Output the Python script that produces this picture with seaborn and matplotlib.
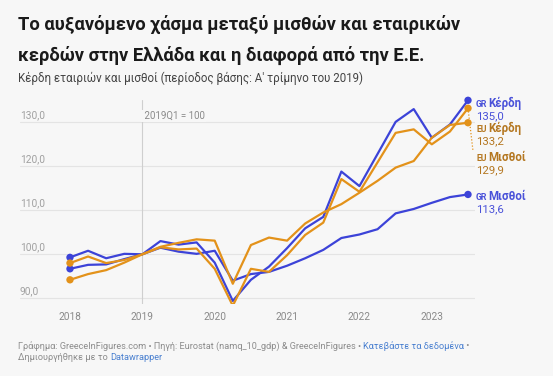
import matplotlib
matplotlib.use("Agg")
import matplotlib.pyplot as plt
import seaborn as sns
import pandas as pd

# Data (index 2019Q1 = 100)
quarters = ["2018Q1", "2018Q2", "2018Q3", "2018Q4",
            "2019Q1", "2019Q2", "2019Q3", "2019Q4",
            "2020Q1", "2020Q2", "2020Q3", "2020Q4",
            "2021Q1", "2021Q2", "2021Q3", "2021Q4",
            "2022Q1", "2022Q2", "2022Q3", "2022Q4",
            "2023Q1", "2023Q2", "2023Q3"]
gr_profits = [99.3, 100.8, 99.1, 100.1, 100.0, 103.0, 102.2, 102.7, 98.1, 89.4, 94.2, 97.2,
              101.4, 105.9, 108.5, 118.8, 115.5, 122.8, 130.1, 133.0, 126.5, 129.5, 135.0]
gr_wages = [96.7, 97.6, 97.7, 98.9, 100.0, 101.5, 100.6, 100.1, 100.8, 94.0, 95.5, 96.0,
            97.4, 99.1, 101.0, 103.7, 104.5, 105.7, 109.3, 110.3, 111.7, 113.0, 113.6]
eu_profits = [98.0, 99.5, 98.0, 98.7, 100.0, 101.6, 101.1, 101.3, 96.7, 88.3, 96.7, 96.0,
              99.8, 104.4, 107.2, 117.1, 114.2, 120.9, 127.6, 128.4, 125.0, 127.9, 133.2]
eu_wages = [94.2, 95.5, 96.4, 98.1, 100.0, 101.7, 102.6, 103.4, 103.1, 93.3, 102.1, 103.8,
            103.1, 107.0, 109.5, 111.4, 114.0, 116.7, 119.7, 121.2, 126.5, 129.4, 129.9]
year_labels = ["2018", "2019", "2020", "2021", "2022", "2023"]
y_ticks = [90, 100, 110, 120, 130]

BLUE = "#3c43d8"
ORANGE = "#e3921a"
BLUE_TXT = "#4a52d9"
ORANGE_TXT = "#b47720"
BG = "#f7f7f7"

series = {
    "GR Κέρδη": gr_profits,
    "GR Μισθοί": gr_wages,
    "EU Κέρδη": eu_profits,
    "EU Μισθοί": eu_wages,
}
palette = {"GR Κέρδη": BLUE, "GR Μισθοί": BLUE, "EU Κέρδη": ORANGE, "EU Μισθοί": ORANGE}

rows = []
for name, vals in series.items():
    for i, (q, v) in enumerate(zip(quarters, vals)):
        rows.append({"idx": i, "quarter": q, "series": name, "value": v})
df = pd.DataFrame(rows)

sns.set_theme(style="white")
plt.rcParams["font.family"] = ["Roboto", "DejaVu Sans"]

fig = plt.figure(figsize=(5.53, 3.76), dpi=100, facecolor=BG)
ax = fig.add_axes([20 / 553, 72 / 376, 455 / 553, 204 / 376])
ax.set_facecolor(BG)

for y in y_ticks:
    ax.axhline(y, color="#e4e4e4", lw=0.8, zorder=0)
ax.axvline(4, color="#cfcfcf", lw=0.8, zorder=0)

sns.lineplot(data=df, x="idx", y="value", hue="series", palette=palette,
             lw=1.6, legend=False, ax=ax, zorder=3)
ends = df[(df.idx == 0) | (df.idx == len(quarters) - 1)]
sns.scatterplot(data=ends, x="idx", y="value", hue="series", palette=palette,
                s=28, edgecolor="none", legend=False, ax=ax, zorder=4)
for c in ax.collections:
    c.set_clip_on(False)

ax.set_xlim(-50 / 18.1, 22 + 7 / 18.1)
ax.set_ylim(88.7, 135.07)
for s in ax.spines.values():
    s.set_visible(False)
ax.set_xticks([0, 4, 8, 12, 16, 20])
ax.set_xticklabels(year_labels, fontsize=7.3, color="#8a8a8a")
ax.tick_params(axis="x", length=0, pad=6)
ax.set_yticks([])
ax.set_xlabel("")
ax.set_ylabel("")

# y labels sit above their gridline
for y in y_ticks:
    ax.annotate(f"{y},0", xy=(0, y), xycoords=("axes fraction", "data"),
                xytext=(0, 7.5), textcoords="offset pixels",
                ha="left", va="center", fontsize=7.3, color="#a0a0a0")

ax.text(4, 131.5, " 2019Q1 = 100", fontsize=7, color="#8a8a8a", ha="left", va="center",
        bbox=dict(facecolor=BG, edgecolor="none", pad=0.6))

# end labels
labels = [
    ("GR", "Κέρδη", "135,0", gr_profits[-1], -4, BLUE_TXT),
    ("EU", "Κέρδη", "133,2", eu_profits[-1], -21, ORANGE_TXT),
    ("EU", "Μισθοί", "129,9", eu_wages[-1], -35, ORANGE_TXT),
    ("GR", "Μισθοί", "113,6", gr_wages[-1], -3, BLUE_TXT),
]
last = len(quarters) - 1
for tag, word, val, yv, dy, col in labels:
    ax.annotate(tag, xy=(last, yv), xytext=(8, dy - 0.5), textcoords="offset pixels",
                fontsize=6.3, fontweight="bold", color=col, ha="left", va="center",
                annotation_clip=False)
    ax.annotate(word, xy=(last, yv), xytext=(20.5, dy + 0.5), textcoords="offset pixels",
                fontsize=8.3, fontweight="bold", color=col, ha="left", va="center",
                annotation_clip=False)
    ax.annotate(val, xy=(last, yv), xytext=(8, dy - 12), textcoords="offset pixels",
                fontsize=8.2, color=col, ha="left", va="center", annotation_clip=False)

# dotted connector for displaced labels
ax.plot([last, last + 0.27], [eu_profits[-1], 123.7], ls=(0, (1, 1.5)), lw=0.9,
        color=ORANGE, clip_on=False, zorder=2)

# titles
fig.text(18 / 553, 1 - 24 / 376, "Το αυξανόμενο χάσμα μεταξύ μισθών και εταιρικών",
         fontsize=13.2, fontweight="bold", color="#1a1a1a", va="center", ha="left")
fig.text(18 / 553, 1 - 55 / 376, "κερδών στην Ελλάδα και η διαφορά από την Ε.Ε.",
         fontsize=13.2, fontweight="bold", color="#1a1a1a", va="center", ha="left")
fig.text(18 / 553, 1 - 78 / 376, "Κέρδη εταιριών και μισθοί (περίοδος βάσης: Α' τρίμηνο του 2019)",
         fontsize=8.3, color="#444444", va="center", ha="left")

# footer with coloured segments
renderer = fig.canvas.get_renderer()
footer = [
    [("Γράφημα: GreeceInFigures.com • Πηγή: Eurostat (namq_10_gdp) & GreeceInFigures • ", "#8c8c8c"),
     ("Κατεβάστε τα δεδομένα", "#4a80d0"), (" •", "#8c8c8c")],
    [("Δημιουργήθηκε με το ", "#8c8c8c"), ("Datawrapper", "#4a80d0")],
]
for line_y, parts in zip([346, 357], footer):
    x = 18
    for txt, col in parts:
        t = fig.text(x / 553, 1 - line_y / 376, txt, fontsize=6.55, color=col,
                     va="center", ha="left")
        bb = t.get_window_extent(renderer=renderer)
        x += bb.width

fig.savefig("out.png", dpi=100, facecolor=BG)
